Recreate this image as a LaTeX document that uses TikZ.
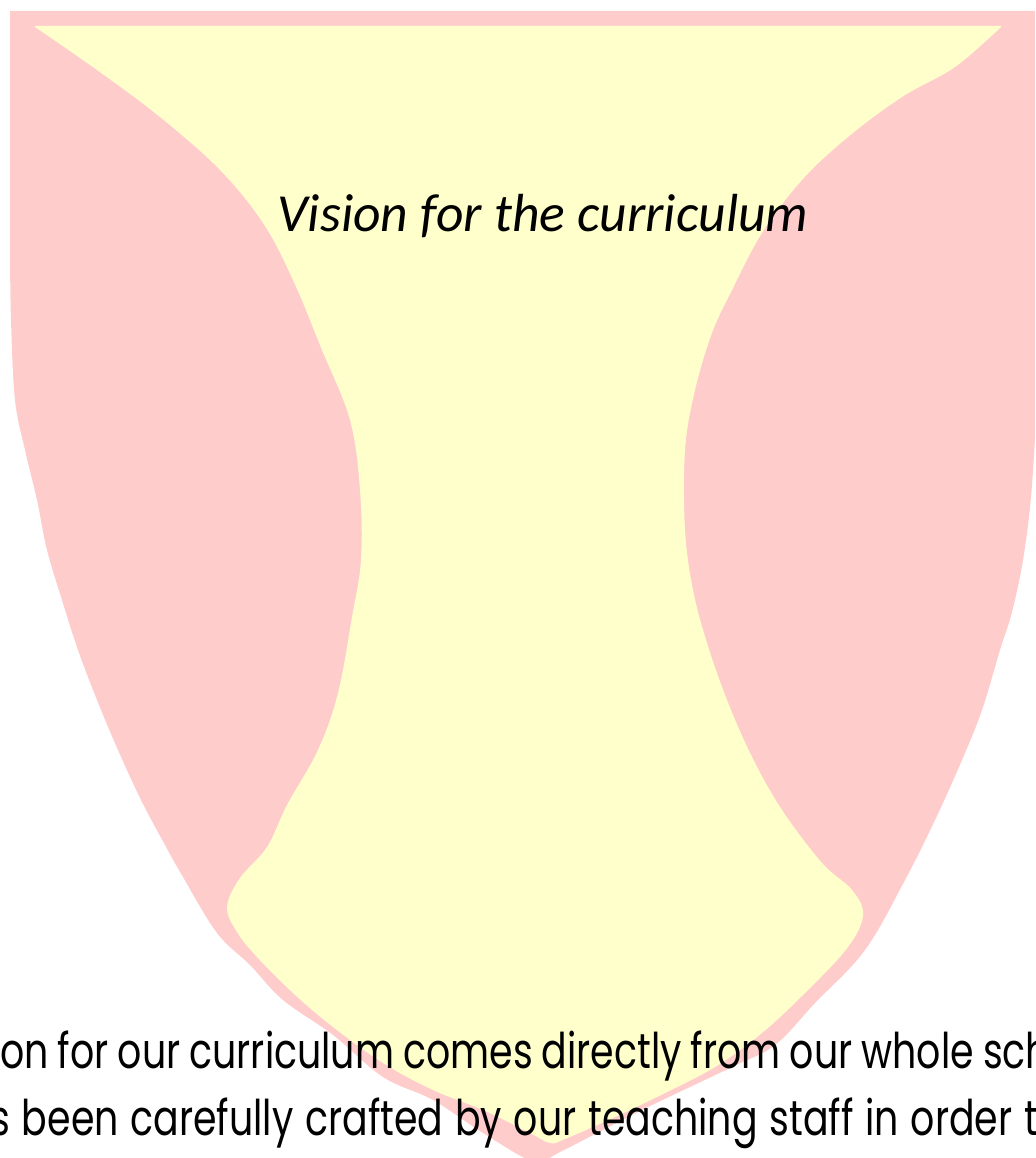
\documentclass[tikz,border=0pt]{standalone}
\usepackage{fontspec}
\newfontfamily\titlefont{Carlito}
\newfontfamily\bodyfont[FakeStretch=0.77,WordSpace=0.9]{Poppins}
\definecolor{shieldpink}{RGB}{255,204,204}
\definecolor{shieldyellow}{RGB}{255,255,204}
\tikzset{bodyline/.style={anchor=base west,inner sep=0pt,font=\bodyfont\fontsize{28}{33}\selectfont}}
\begin{document}
\begin{tikzpicture}[x=0.02cm,y=-0.02cm]
\useasboundingbox (0,0) rectangle (1035,1158);
\clip (0,0) rectangle (1035,1158);
\fill[shieldpink] (10,11) -- (1045,11) -- (1045,400) -- plot[smooth,tension=0.6] coordinates {(1036,420) (1031,497) (1023,560) (1012,612) (1000,650) (982,710) (962,760) (935,820) (905,880) (865,950) (815,1003) (775,1045) (732,1067) (642,1110) (560,1152) (535,1162) (483,1133) (433,1100) (383,1077) (333,1035) (283,1000) (250,965) (217,933) (183,877) (165,845) (141,800) (118,750) (97,700) (78,650) (62,600) (47,550) (37,500) (25,450) (15,400) (11,320) (10,250)} -- (10,11) -- cycle;
\fill[shieldyellow] (35,26) -- (1001,26) -- plot[smooth,tension=0.6] coordinates {(1001,27) (955,67) (902,97) (848,137) (802,180) (762,233) (732,290) (712,333) (695,390) (685,450) (685,530) (693,590) (707,643) (727,700) (752,757) (782,810) (822,863) (852,890) (863,915) (848,947) (808,990) (762,1033) (715,1067) (665,1093) (615,1117) (565,1139) (550,1143) (530,1133) (483,1110) (433,1090) (383,1063) (333,1027) (293,993) (257,957) (237,932) (227,907) (240,878) (267,847) (287,805) (318,750) (338,693) (352,617) (361,560) (360,490) (350,420) (322,350) (293,280) (263,223) (220,170) (160,117) (97,70) (35,27)} -- cycle;
\node[anchor=base,inner sep=0pt,font=\titlefont\itshape\fontsize{30.5}{36}\selectfont] (title) at (543,232) {Vision for the curriculum};
\node[bodyline] (lineone) at (0,1068) {on for our curriculum comes directly from our whole sch};
\node[bodyline] (linetwo) at (-10,1135) {\spaceskip=1.3\fontdimen2\font s been carefully crafted by our teaching staff in order t};
\end{tikzpicture}
\end{document}
